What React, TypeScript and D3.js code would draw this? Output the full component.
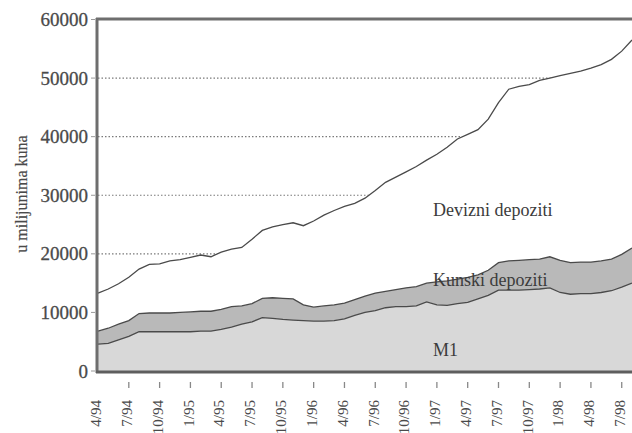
import React from 'react';
import * as d3 from 'd3';

// months 4/94 .. 8/98
const months = [
  '4/94', '5/94', '6/94', '7/94', '8/94', '9/94', '10/94', '11/94', '12/94',
  '1/95', '2/95', '3/95', '4/95', '5/95', '6/95', '7/95', '8/95', '9/95', '10/95', '11/95', '12/95',
  '1/96', '2/96', '3/96', '4/96', '5/96', '6/96', '7/96', '8/96', '9/96', '10/96', '11/96', '12/96',
  '1/97', '2/97', '3/97', '4/97', '5/97', '6/97', '7/97', '8/97', '9/97', '10/97', '11/97', '12/97',
  '1/98', '2/98', '3/98', '4/98', '5/98', '6/98', '7/98', '8/98',
];

const tickLabels = [
  '4/94', '7/94', '10/94', '1/95', '4/95', '7/95', '10/95', '1/96', '4/96',
  '7/96', '10/96', '1/97', '4/97', '7/97', '10/97', '1/98', '4/98', '7/98',
];

// u milijunima kuna
const m1 = [
  4600, 4700, 5300, 5900, 6700, 6700, 6700, 6700, 6700, 6700, 6800, 6800, 7100,
  7500, 8000, 8400, 9100, 9000, 8800, 8700, 8600, 8500, 8500, 8600, 8900, 9500,
  10000, 10300, 10800, 11000, 11000, 11100, 11800, 11300, 11200, 11500, 11700, 12300, 12900,
  13800, 13800, 13800, 13900, 14000, 14200, 13400, 13100, 13200, 13200, 13400, 13700, 14300, 15000,
];

const kunski = [
  2200, 2600, 2700, 2700, 3100, 3200, 3200, 3200, 3300, 3400, 3400, 3400, 3400,
  3500, 3100, 3100, 3300, 3500, 3600, 3600, 2700, 2400, 2600, 2700, 2700, 2700,
  2800, 3000, 2800, 2900, 3200, 3300, 3200, 3900, 4200, 4200, 4300, 4100, 4300,
  4700, 5000, 5100, 5100, 5100, 5300, 5500, 5400, 5400, 5400, 5400, 5400, 5600, 6000,
];

const devizni = [
  6500, 6700, 6900, 7400, 7600, 8300, 8400, 8900, 9000, 9300, 9600, 9300, 9800,
  9800, 10000, 11000, 11600, 12100, 12600, 13000, 13500, 14700, 15500, 16100, 16500, 16400,
  16700, 17500, 18600, 19200, 19800, 20500, 21000, 21800, 22800, 23900, 24400, 24800, 25800,
  27300, 29300, 29700, 29900, 30500, 30500, 31500, 32300, 32600, 33100, 33500, 34100, 34700, 35500,
];

const yTicks = [0, 10000, 20000, 30000, 40000, 50000, 60000];
const gridValues = [20000, 30000, 40000, 50000];

const W = 632;
const H = 433;

export default function App() {
  const x = d3.scaleLinear().domain([0, months.length - 1]).range([98, 632]);
  const y = d3.scaleLinear().domain([0, 60000]).range([371, 19.5]);

  const rows = months.map((m, i) => ({ m1: m1[i], kunski: kunski[i], devizni: devizni[i] }));
  const stacked = d3.stack<any>().keys(['m1', 'kunski', 'devizni'])(rows);

  const area = d3
    .area<any>()
    .x((d, i) => x(i))
    .y0((d) => y(d[0]))
    .y1((d) => y(d[1]));
  const line = d3
    .line<any>()
    .x((d, i) => x(i))
    .y((d) => y(d[1]));

  const fills = ['#d8d8d8', '#b9b9b9', '#ffffff'];
  const serif = "'Liberation Serif', 'DejaVu Serif', serif";

  return (
    <div style={{ position: 'absolute', left: 0, top: 0 }}>
      <svg width={W} height={H} style={{ display: 'block', background: '#fff' }}>
        {/* dotted grid */}
        {gridValues.map((v) => (
          <line
            key={v}
            x1={98}
            x2={W}
            y1={y(v)}
            y2={y(v)}
            stroke="#7a7a7a"
            strokeWidth={1.2}
            strokeDasharray="1.5 2"
          />
        ))}

        {stacked.map((s, k) => (
          <path key={s.key} d={area(s) || ''} fill={fills[k]} />
        ))}
        {stacked.map((s) => (
          <path key={'l' + s.key} d={line(s) || ''} fill="none" stroke="#4a4a4a" strokeWidth={1.3} />
        ))}

        {/* frame */}
        <line x1={97} x2={97} y1={18} y2={373} stroke="#6e6e6e" strokeWidth={3} />
        <line x1={96} x2={W} y1={19} y2={19} stroke="#6e6e6e" strokeWidth={3} />
        <line x1={96} x2={W} y1={372} y2={372} stroke="#5e5e5e" strokeWidth={3} />

        {/* y axis */}
        {yTicks.map((v) => (
          <g key={v}>
            <line x1={91} x2={95} y1={y(v)} y2={y(v)} stroke="#999" strokeWidth={1} />
            <text
              x={88}
              y={y(v)}
              dy="0.35em"
              textAnchor="end"
              fontFamily={serif}
              fontSize={19}
              fill="#4a4a4a"
              stroke="#4a4a4a"
              strokeWidth={0.3}
            >
              {v}
            </text>
          </g>
        ))}
        <text
          transform="translate(21,194) rotate(-90)"
          textAnchor="middle"
          dy="0.35em"
          fontFamily={serif}
          fontSize={16}
          fill="#4a4a4a"
          stroke="#4a4a4a"
          strokeWidth={0.2}
        >
          u milijunima kuna
        </text>

        {/* x axis */}
        {tickLabels.map((t, j) => {
          const xi = x(months.indexOf(t));
          return (
            <g key={t}>
              {j > 0 && (
                <line x1={xi} x2={xi} y1={382} y2={388} stroke="#888" strokeWidth={1.3} />
              )}
              <text
                transform={`translate(${xi - 2},400) rotate(-90)`}
                textAnchor="end"
                dy="0.35em"
                fontFamily={serif}
                fontSize={15}
                fill="#4a4a4a"
              >
                {t}
              </text>
            </g>
          );
        })}

        {/* series labels */}
        <text x={433} y={216} fontFamily={serif} fontSize={18} fill="#3c3c3c">
          Devizni depoziti
        </text>
        <text x={433} y={286} fontFamily={serif} fontSize={18} fill="#3c3c3c">
          Kunski depoziti
        </text>
        <text x={433} y={356} fontFamily={serif} fontSize={18} fill="#3c3c3c">
          M1
        </text>
      </svg>
    </div>
  );
}
